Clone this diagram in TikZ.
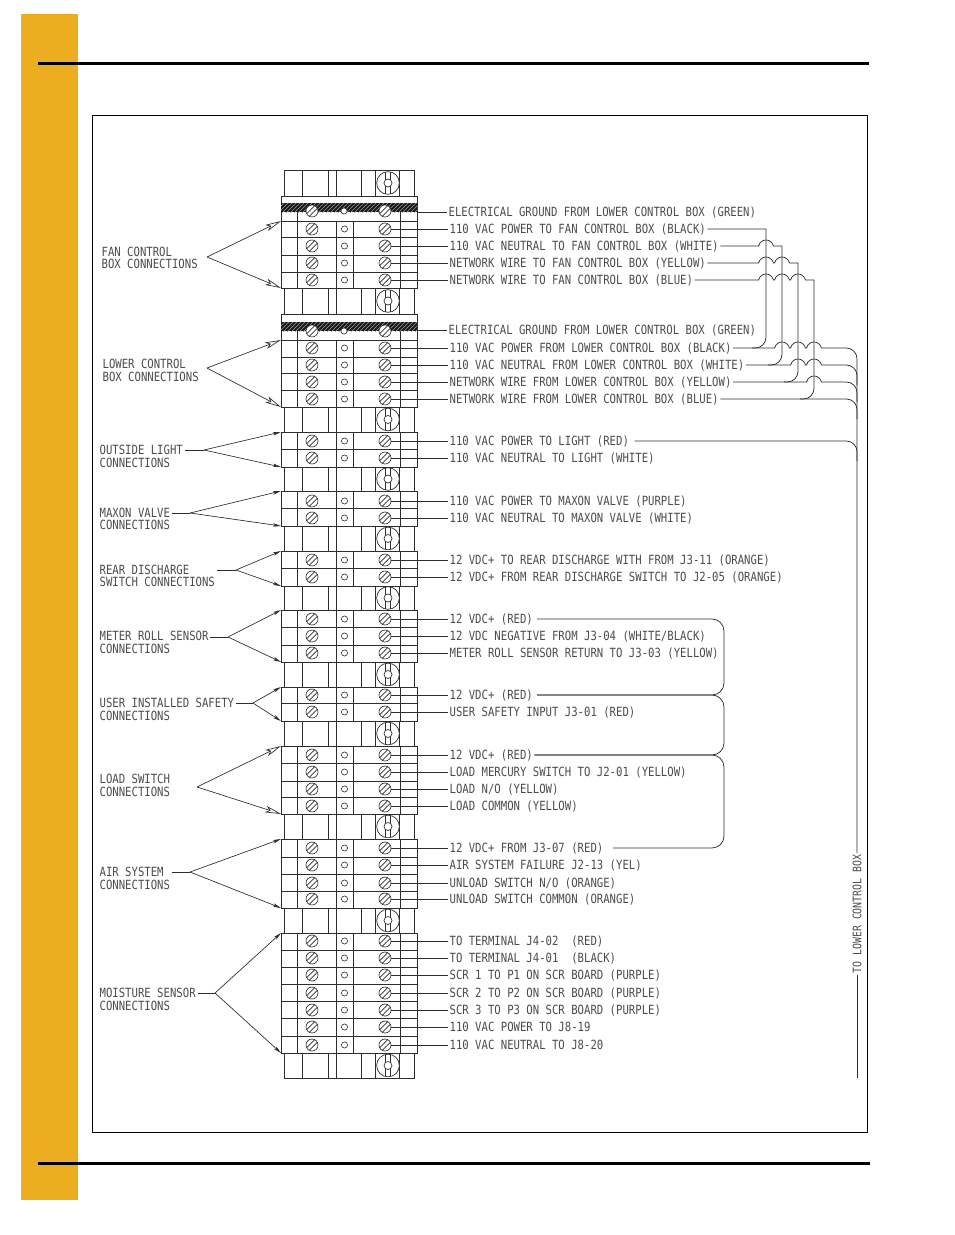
\documentclass[tikz,border=0pt]{standalone}
\usepackage{fontspec}
\usepackage{xcolor}
\usetikzlibrary{arrows.meta}
\usetikzlibrary{patterns}
\newfontfamily\CadFont[FakeStretch=0.84]{DejaVu Sans Mono}
\definecolor{ColBar}{RGB}{236,173,33}
\definecolor{ColInk}{RGB}{45,45,45}
\definecolor{ColType}{RGB}{75,75,75}
\tikzstyle{WireText}=[inner sep=1pt,text height=6.6pt,text depth=0pt,text=ColType,
font=\fontsize{9.5}{12}\CadFont]
\tikzstyle{BlockLine}=[ColInk,line width=.55pt]
\tikzstyle{Wire}=[ColInk,line width=.55pt]
\tikzstyle{BigArrow}=[ColInk,line width=.5pt,-{Stealth[open,length=12pt,width=5pt,inset=3pt]}]
\tikzstyle{SmallArrow}=[ColInk,line width=.5pt,-{Stealth[length=6pt,width=2.6pt,inset=1.5pt]}]
\tikzstyle{SmallHole}=[circle,draw=ColInk,fill=white,inner sep=0pt,minimum size=4.6pt,line width=.45pt]
\tikzstyle{MountHole}=[circle,draw=ColInk,fill=white,inner sep=0pt,minimum size=6pt,line width=.5pt]
\tikzstyle{ScrewHead}=[circle,draw=ColInk,fill=white,inner sep=0pt,minimum size=9pt,line width=.5pt,
path picture={
  \draw[ColInk,line width=.5pt]
  ([xshift=-1pt,yshift=1pt]path picture bounding box.south west)--([xshift=-1pt,yshift=1pt]path picture bounding box.north east)
  ([xshift=1pt,yshift=-1pt]path picture bounding box.south west)--([xshift=1pt,yshift=-1pt]path picture bounding box.north east);}]
\tikzstyle{MountHead}=[circle,draw=ColInk,fill=white,inner sep=0pt,minimum size=17pt,line width=.5pt,
path picture={
  \draw[ColInk,line width=.5pt]
  ([xshift=-1.7pt]path picture bounding box.south)--([xshift=-1.7pt]path picture bounding box.north)
  ([xshift=1.7pt]path picture bounding box.south)--([xshift=1.7pt]path picture bounding box.north);}]
\newcommand{\Hop}[2]{-- (#1-7.5,#2) .. controls (#1-5,#2-8) and (#1+5,#2-8) .. (#1+7.5,#2)}

\begin{document}
\begin{tikzpicture}[x=.75pt,y=-.75pt]
        \useasboundingbox(0,0)rectangle(954,1235);
        % page furniture
        \fill[ColBar](21,14)rectangle(78,1200);
        \fill[black](38,62)rectangle(869,65);
        \fill[black](38,1162)rectangle(870,1165);
        \draw[black,line width=.8pt](92.5,115.5)rectangle(867.5,1132.5);
        % mounting pieces
        \foreach \mt/\mb in {170/196,288/314,407/432,467/491,526/551,586/610,662/687,721/746,814/839,908/933,1053/1078}{
          \draw[BlockLine](284,\mt)rectangle(414,\mb);
          \foreach \vx in {302,328,336,361,375,399}
            \draw[BlockLine](\vx,\mt)--(\vx,\mb);
          \node[MountHead](m\mt)at(388,{(\mt+\mb)/2}){};
          \node[MountHole](mh\mt)at(388,{(\mt+\mb)/2}){};
        }
        % terminal blocks
        \foreach \bt/\bb/\vt in {196/288/221,314/407/340,432/467/432,491/526/491,551/586/551,610/662/610,687/721/687,746/814/746,839/908/839,933/1053/933}{
          \draw[BlockLine,fill=white](281,\bt)rectangle(417,\bb);
          \draw[BlockLine](336,\vt)--(336,\bb);
          \draw[BlockLine](353,\vt)--(353,\bb);
          \draw[BlockLine](297,\vt)--(297,\bb);
          \draw[BlockLine](400,\vt)--(400,\bb);
        }
        \foreach \by in {221,237,255,272,340,357,373,390,449,508,568,627,645,703,763,781,797,857,874,891,950,967,984,1001,1018,1036}
          \draw[BlockLine](281,\by)--(417,\by);
        % ground bars
        \foreach \gy in {203,322}{
          \draw[BlockLine](297,\gy+9)--(297,\gy+18);
          \draw[BlockLine](400,\gy+9)--(400,\gy+18);
          \fill[black!90](281,\gy)rectangle(417,\gy+9);
          \fill[pattern=north east lines,pattern color=black!40](281,\gy)rectangle(417,\gy+9);
        }
        \foreach \sy in {211,331}{
          \node[ScrewHead](gl\sy)at(312,\sy){};
          \node[SmallHole](gm\sy)at(344,\sy){};
          \node[ScrewHead](gr\sy)at(385,\sy){};
        }
        % ground wires
        \coordinate(ga)at(417,212);
        \coordinate(gb)at(417,330);
        \node[WireText,anchor=west](t212)at(447,212){ELECTRICAL GROUND FROM LOWER CONTROL BOX (GREEN)};
        \node[WireText,anchor=west](t330)at(447,330){ELECTRICAL GROUND FROM LOWER CONTROL BOX (GREEN)};
        \draw[Wire](ga)--(t212.west);
        \draw[Wire](gb)--(t330.west);
        % screw rows and their labels
        \foreach \sy/\stext in {
          229/{110 VAC POWER TO FAN CONTROL BOX (BLACK)},
          246/{110 VAC NEUTRAL TO FAN CONTROL BOX (WHITE)},
          263/{NETWORK WIRE TO FAN CONTROL BOX (YELLOW)},
          280/{NETWORK WIRE TO FAN CONTROL BOX (BLUE)},
          348/{110 VAC POWER FROM LOWER CONTROL BOX (BLACK)},
          365/{110 VAC NEUTRAL FROM LOWER CONTROL BOX (WHITE)},
          382/{NETWORK WIRE FROM LOWER CONTROL BOX (YELLOW)},
          399/{NETWORK WIRE FROM LOWER CONTROL BOX (BLUE)},
          441/{110 VAC POWER TO LIGHT (RED)},
          458/{110 VAC NEUTRAL TO LIGHT (WHITE)},
          501/{110 VAC POWER TO MAXON VALVE (PURPLE)},
          518/{110 VAC NEUTRAL TO MAXON VALVE (WHITE)},
          560/{12 VDC+ TO REAR DISCHARGE WITH FROM J3-11 (ORANGE)},
          577/{12 VDC+ FROM REAR DISCHARGE SWITCH TO J2-05 (ORANGE)},
          619/{12 VDC+ (RED)},
          636/{12 VDC NEGATIVE FROM J3-04 (WHITE/BLACK)},
          653/{METER ROLL SENSOR RETURN TO J3-03 (YELLOW)},
          695/{12 VDC+ (RED)},
          712/{USER SAFETY INPUT J3-01 (RED)},
          755/{12 VDC+ (RED)},
          772/{LOAD MERCURY SWITCH TO J2-01 (YELLOW)},
          789/{LOAD N/O (YELLOW)},
          806/{LOAD COMMON (YELLOW)},
          848/{12 VDC+ FROM J3-07 (RED)},
          865/{AIR SYSTEM FAILURE J2-13 (YEL)},
          883/{UNLOAD SWITCH N/O (ORANGE)},
          899/{UNLOAD SWITCH COMMON (ORANGE)},
          941/{TO TERMINAL J4-02~~(RED)},
          958/{TO TERMINAL J4-01~~(BLACK)},
          975/{SCR 1 TO P1 ON SCR BOARD (PURPLE)},
          993/{SCR 2 TO P2 ON SCR BOARD (PURPLE)},
          1010/{SCR 3 TO P3 ON SCR BOARD (PURPLE)},
          1027/{110 VAC POWER TO J8-19},
          1045/{110 VAC NEUTRAL TO J8-20}}{
          \node[ScrewHead](l\sy)at(312,\sy){};
          \node[SmallHole](c\sy)at(344.5,\sy){};
          \node[ScrewHead](r\sy)at(385,\sy){};
          \node[WireText,anchor=west](t\sy)at(448,\sy){\stext};
          \draw[Wire](r\sy)--(t\sy.west);
        }
        % wires between the fan and lower boxes
        \draw[Wire](t229.east)--(766,229)--(766,300)[rounded corners=8pt]--(766,348)--(752,348);
        \draw[Wire](t246.east)\Hop{766}{246}--(782,246)--(782,300)[rounded corners=8pt]--(782,365)--(768,365);
        \draw[Wire](t263.east)\Hop{766}{263}\Hop{782}{263}--(798,263)--(798,300)[rounded corners=8pt]--(798,382)--(784,382);
        \draw[Wire](t280.east)\Hop{766}{280}\Hop{782}{280}\Hop{798}{280}--(814,280)--(814,320)[rounded corners=8pt]--(814,399)--(800,399);
        % trunk to the lower control box
        \node[WireText,rotate=90,font=\fontsize{8.8}{11}\CadFont](tc)at(857,914){TO LOWER CONTROL BOX};
        \coordinate(tend)at(857,1078);
        \draw[Wire](t348.east)\Hop{782}{348}\Hop{798}{348}\Hop{814}{348}[rounded corners=8pt]--(857,348)--(tc.east);
        \draw[Wire](tc.west)--(tend);
        \draw[Wire](t365.east)\Hop{798}{365}\Hop{814}{365}[rounded corners=8pt]--(857,365)--(857,385);
        \draw[Wire](t382.east)\Hop{814}{382}[rounded corners=8pt]--(857,382)--(857,402);
        \draw[Wire,rounded corners=8pt](t399.east)--(857,399)--(857,419);
        \draw[Wire,rounded corners=8pt,shorten <=3pt](t441.east)--(857,441)--(857,461);
        % 12 VDC+ jumpers
        \draw[Wire,rounded corners=9pt,shorten <=2pt,shorten >=2pt](t619.east)--(724,619)--(724,695)--(t695.east);
        \draw[Wire,rounded corners=9pt,shorten <=2pt](t695.east)--(724,695)--(724,755)--(t755.east);
        \draw[Wire,rounded corners=9pt,shorten <=6pt](t848.east)--(724,848)--(724,755)--(t755.east);
        % group labels
        \foreach \gn/\gx/\ga/\ta/\gb/\tb in {
          fan/100/252/{FAN CONTROL}/264/{BOX CONNECTIONS},
          low/101/364/{LOWER CONTROL}/377/{BOX CONNECTIONS},
          out/98/450/{OUTSIDE LIGHT}/463/{CONNECTIONS},
          max/98/513/{MAXON VALVE}/525/{CONNECTIONS},
          rear/98/570/{REAR DISCHARGE}/582/{SWITCH CONNECTIONS},
          met/98/636/{METER ROLL SENSOR}/649/{CONNECTIONS},
          user/98/703/{USER INSTALLED SAFETY}/716/{CONNECTIONS},
          load/98/779/{LOAD SWITCH}/792/{CONNECTIONS},
          air/98/872/{AIR SYSTEM}/885/{CONNECTIONS},
          moist/98/993/{MOISTURE SENSOR}/1006/{CONNECTIONS}}{
          \node[WireText,anchor=west](\gn A)at(\gx,\ga){\ta};
          \node[WireText,anchor=west](\gn B)at(\gx,\gb){\tb};
        }
        % group pointers
        \foreach \gn/\ax/\ay/\yup/\ydn/\tip in {
          fan/207/257/221/288/BigArrow,
          low/207/368/340/407/BigArrow,
          out/204/450/432/467/SmallArrow,
          max/190/513/491/526/SmallArrow,
          rear/236/570/551/586/SmallArrow,
          met/228/637/610/662/SmallArrow,
          user/253/703/687/721/SmallArrow,
          load/197/787/746/814/BigArrow,
          air/190/872/839/908/SmallArrow,
          moist/215/993/933/1053/SmallArrow}{
          \coordinate(\gn P)at(\ax,\ay);
          \coordinate(\gn U)at(281,\yup);
          \coordinate(\gn D)at(281,\ydn);
          \draw[\tip](\gn P)--(\gn U);
          \draw[\tip](\gn P)--(\gn D);
        }
        \foreach \gn/\sx/\sy in {out/185/450,max/172/513,rear/217/570,met/210/637,user/236/703,air/172/872,moist/198/993}{
          \coordinate(\gn S)at(\sx,\sy);
          \draw[Wire](\gn S)--(\gn P);
        }
\end{tikzpicture}
\end{document}
